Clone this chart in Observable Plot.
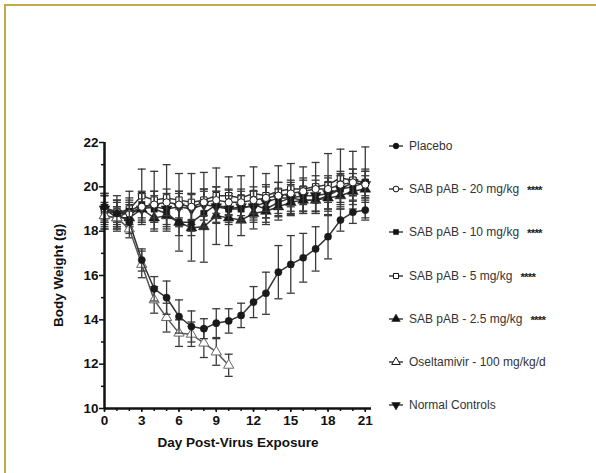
<!DOCTYPE html>
<html><head><meta charset="utf-8">
<script src="https://cdn.jsdelivr.net/npm/d3@7"></script>
<script src="https://cdn.jsdelivr.net/npm/@observablehq/plot@0.6"></script>
<style>
html,body{margin:0;padding:0;background:#fff;}
#wrap{position:relative;width:596px;height:473px;overflow:hidden;font-family:"Liberation Sans",Arial,sans-serif;}
#frame{position:absolute;left:4px;top:4px;right:-10px;bottom:-10px;border-top:2px solid #c2aa45;border-left:2px solid #c2aa45;}
#chart{position:absolute;left:0;top:0;}
#legend{position:absolute;left:388px;top:0;width:208px;height:473px;}
.item{position:absolute;left:0;height:16px;white-space:nowrap;font-size:12px;color:#333;display:flex;align-items:center;}
.item svg{margin-right:5px;}
.stars{font-size:11.5px;font-weight:bold;margin-left:8px;letter-spacing:-0.8px;color:#222;position:relative;top:1px;}
</style>
</head><body>
<div id="wrap"><div id="frame"></div><div id="chart"></div><div id="legend"></div></div>
<script>
const days = d3.range(0, 22);
const xMajor = [0, 3, 6, 9, 12, 15, 18, 21];
const xMinor = d3.range(0, 22);
const yMajor = [10, 12, 14, 16, 18, 20, 22];
const yMinor = [11, 13, 15, 17, 19, 21];

const seriesNames = ["Placebo", "SAB pAB - 20 mg/kg", "SAB pAB - 10 mg/kg", "SAB pAB - 5 mg/kg", "SAB pAB - 2.5 mg/kg", "Oseltamivir - 100 mg/kg/d", "Normal Controls"];
const seriesStars = ["", "****", "****", "****", "****", "", ""];

const placebo    = [19.1, 18.8, 18.4, 16.7, 15.4, 15.0, 14.15, 13.7, 13.6, 13.85, 13.95, 14.2, 14.8, 15.2, 16.15, 16.5, 16.8, 17.2, 17.75, 18.5, 18.85, 18.95];
const placeboErr = [0.6, 0.5, 0.5, 0.5, 0.55, 0.75, 0.75, 0.7, 0.45, 0.65, 0.55, 0.55, 0.7, 0.95, 1.2, 1.3, 1.1, 1.0, 1.0, 0.5, 0.5, 0.45];

const sab20    = [19.0, 18.9, 18.8, 19.1, 19.2, 19.3, 19.2, 19.1, 19.3, 19.4, 19.3, 19.3, 19.4, 19.5, 19.6, 19.7, 19.8, 19.9, 19.9, 20.1, 20.2, 20.1];
const sab20Err = [0.6, 0.5, 0.5, 0.6, 0.6, 0.6, 0.6, 0.6, 0.6, 0.6, 0.6, 0.6, 0.6, 0.6, 0.6, 0.6, 0.6, 0.6, 0.6, 0.6, 0.6, 0.6];

const sab10    = [19.0, 18.6, 18.9, 19.2, 19.0, 18.8, 18.4, 18.4, 18.8, 19.2, 19.0, 19.0, 19.2, 19.0, 19.3, 19.5, 19.4, 19.4, 19.6, 19.9, 20.0, 20.2];
const sab10Err = [0.7, 0.5, 0.6, 0.6, 0.6, 0.6, 0.6, 0.6, 0.6, 0.6, 0.6, 0.6, 0.6, 0.6, 0.6, 0.6, 0.6, 0.6, 0.6, 0.6, 0.6, 0.6];

const sab5    = [18.9, 18.8, 19.0, 19.6, 19.4, 19.5, 19.4, 19.3, 19.4, 19.6, 19.6, 19.5, 19.7, 19.6, 19.8, 19.9, 19.9, 20.0, 20.1, 20.4, 20.3, 20.2];
const sab5Err = [0.8, 0.8, 0.8, 1.2, 1.3, 1.5, 1.2, 1.3, 1.25, 1.25, 0.85, 1.0, 1.2, 1.0, 1.15, 1.15, 1.0, 1.1, 1.4, 1.3, 1.3, 1.6];

const sab25    = [18.7, 18.6, 18.6, 19.0, 18.6, 18.7, 18.4, 18.15, 18.2, 18.7, 18.6, 18.5, 18.8, 18.9, 19.1, 19.3, 19.4, 19.4, 19.5, 19.6, 19.8, 19.9];
const sab25Err = [0.6, 0.5, 0.6, 0.6, 0.6, 0.6, 1.3, 1.5, 1.6, 1.3, 1.25, 0.7, 0.7, 0.6, 0.6, 0.6, 0.6, 0.6, 0.6, 0.6, 0.6, 0.6];

const osel    = [18.7, 18.6, 18.1, 16.5, 14.9, 14.1, 13.4, 13.35, 12.95, 12.55, 11.95];
const oselErr = [0.5, 0.4, 0.4, 0.6, 0.6, 0.65, 0.6, 0.55, 0.65, 0.6, 0.5];

const normal    = [19.0, 18.8, 18.8, 19.0, 19.1, 19.0, 19.1, 19.0, 19.2, 19.1, 19.0, 19.1, 19.1, 19.3, 19.5, 19.5, 19.6, 19.6, 19.7, 19.9, 20.2, 20.1];
const normalErr = [0.6, 0.6, 0.6, 0.7, 0.7, 0.7, 0.7, 0.7, 0.7, 0.7, 0.7, 0.7, 0.7, 0.7, 0.7, 0.7, 0.7, 0.7, 0.7, 0.7, 0.6, 0.6];

// symbols
const sqrt3 = Math.sqrt(3);
const triDown = {draw(ctx, size) {
  const y = -Math.sqrt(size / (sqrt3 * 3));
  ctx.moveTo(0, -y * 2); ctx.lineTo(-sqrt3 * y, y); ctx.lineTo(sqrt3 * y, y); ctx.closePath();
}};
const cap = {draw(ctx) { ctx.moveTo(-4, 0); ctx.lineTo(4, 0); }};

const defs = [
  {mean: normal, err: normalErr, sym: triDown, filled: true, idx: 6},
  {mean: sab25, err: sab25Err, sym: d3.symbolTriangle, filled: true, idx: 4},
  {mean: sab5, err: sab5Err, sym: d3.symbolSquare, filled: false, idx: 3},
  {mean: sab10, err: sab10Err, sym: d3.symbolSquare, filled: true, idx: 2},
  {mean: sab20, err: sab20Err, sym: d3.symbolCircle, filled: false, idx: 1},
  {mean: osel, err: oselErr, sym: d3.symbolTriangle, filled: false, idx: 5},
  {mean: placebo, err: placeboErr, sym: d3.symbolCircle, filled: true, idx: 0}
];

const ink = "#1a1a1a";
const marks = [];
for (const s of defs) {
  const rows = s.mean.map((m, i) => ({day: days[i], w: m, lo: m - s.err[i], hi: m + s.err[i]}));
  const lineColor = s.idx === 5 ? "#555" : "#333";
  const isTri = s.sym === d3.symbolTriangle || s.sym === triDown;
  marks.push(Plot.ruleX(rows, {x: "day", y1: "lo", y2: "hi", stroke: "#3a3a3a", strokeWidth: 1.3}));
  marks.push(Plot.dot(rows, {x: "day", y: "hi", symbol: cap, stroke: "#3a3a3a", strokeWidth: 1.3, r: 3}));
  marks.push(Plot.dot(rows, {x: "day", y: "lo", symbol: cap, stroke: "#3a3a3a", strokeWidth: 1.3, r: 3}));
  marks.push(Plot.line(rows, {x: "day", y: "w", stroke: lineColor, strokeWidth: 1.5}));
  marks.push(Plot.dot(rows, {x: "day", y: "w", symbol: s.sym, r: isTri ? (s.filled ? 4.0 : 3.8) : 3.6,
    fill: s.filled ? ink : "#fff", stroke: s.idx === 5 ? "#666" : ink, strokeWidth: s.filled ? 0.5 : 1}));
}

const xDomain = [0, 21.5], yDomain = [10, 22];
marks.push(Plot.ruleX([xDomain[0]], {y1: yDomain[0], y2: yDomain[1], stroke: "#111", strokeWidth: 2.5}));
marks.push(Plot.ruleY([yDomain[0]], {x1: xDomain[0], x2: xDomain[1], stroke: "#111", strokeWidth: 2.5}));
marks.push(Plot.axisX(xMinor, {tickSize: 3, tickFormat: () => "", label: null, strokeWidth: 1.5}));
marks.push(Plot.axisX(xMajor, {tickSize: 4, tickPadding: 3, tickFormat: d => String(d), strokeWidth: 1.5,
  label: "Day Post-Virus Exposure", labelAnchor: "center", labelOffset: 38, labelArrow: "none"}));
marks.push(Plot.axisY(yMinor, {tickSize: 3, tickFormat: () => "", label: null, strokeWidth: 1.5}));
marks.push(Plot.axisY(yMajor, {tickSize: 5, tickPadding: 1, tickFormat: d => String(d), strokeWidth: 1.5,
  label: "Body Weight (g)", labelAnchor: "center", labelOffset: 51, labelArrow: "none"}));

const chart = Plot.plot({
  width: 596, height: 473,
  marginLeft: 104, marginRight: 225, marginTop: 142, marginBottom: 65,
  x: {domain: xDomain},
  y: {domain: yDomain},
  style: {fontFamily: '"Liberation Sans", Arial, sans-serif', fontSize: "13.5px", fontWeight: "bold", color: "#111", background: "transparent", overflow: "visible"},
  marks
});
document.getElementById("chart").appendChild(chart);

// legend
const legendSyms = [
  {sym: d3.symbolCircle, filled: true, size: 26},
  {sym: d3.symbolCircle, filled: false, size: 26},
  {sym: d3.symbolSquare, filled: true, size: 26},
  {sym: d3.symbolSquare, filled: false, size: 26},
  {sym: d3.symbolTriangle, filled: true, size: 32},
  {sym: d3.symbolTriangle, filled: false, size: 32},
  {sym: triDown, filled: true, size: 32}
];
const legend = document.getElementById("legend");
seriesNames.forEach((name, i) => {
  const cy = 146 + i * 43.2;
  const item = document.createElement("div");
  item.className = "item";
  item.style.top = (cy - 8) + "px";
  const ls = legendSyms[i];
  const path = d3.symbol().type(ls.sym).size(ls.size)();
  item.innerHTML = `<svg width="16" height="12" viewBox="0 0 16 12"><line x1="1" x2="15" y1="6" y2="6" stroke="#222" stroke-width="1.3"/><path transform="translate(8,6)" d="${path}" fill="${ls.filled ? '#111' : '#fff'}" stroke="#111" stroke-width="${ls.filled ? 0.5 : 1}"/></svg><span>${name}</span>${seriesStars[i] ? `<span class="stars">${seriesStars[i]}</span>` : ""}`;
  legend.appendChild(item);
});
</script>
</body></html>
